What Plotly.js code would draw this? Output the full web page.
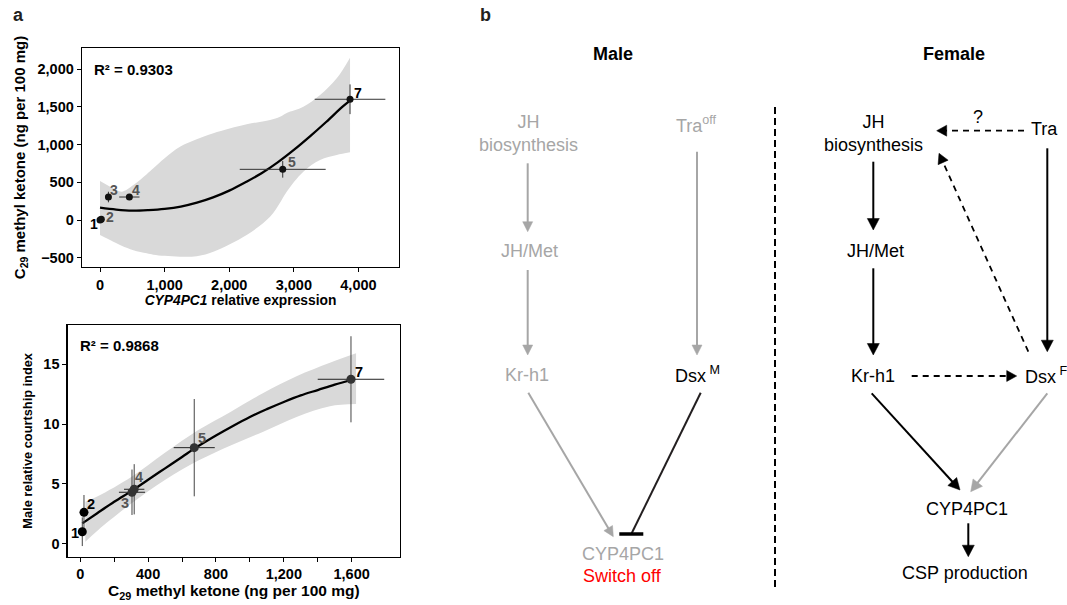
<!DOCTYPE html>
<html><head><meta charset="utf-8">
<script src="https://cdn.plot.ly/plotly-3.0.1.min.js"></script>
<style>html,body{margin:0;padding:0;background:#fff}#chart{width:1067px;height:605px}</style>
</head><body><div id="chart"></div>
<script>
// ---------- Panel a, top: CYP4PC1 expression vs C29 methyl ketone ----------
const strainLabels = ['1', '2', '3', '4', '5', '7'];
const cypExpression = [0, 20, 130, 454, 2828, 3870];
const cypExpressionErr = [0, 0, 25, 157, 665, 547];
const ketoneTop = [0, 10, 305, 305, 672, 1601];
const ketoneTopErr = [0, 0, 70, 35, 110, 197];
const fitTopX = [0, 250, 500, 750, 1000, 1250, 1500, 1750, 2000, 2250, 2500, 2750, 3000, 3250, 3500, 3750, 3850];
const fitTopY = [163, 138, 125, 132, 148, 178, 230, 300, 390, 500, 620, 765, 930, 1110, 1300, 1500, 1570];
const bandTopX = [0, 206, 335, 516, 723, 825, 1000, 1238, 1496, 1754, 2270, 2632, 2786, 2890, 3147, 3406, 3664, 3870];
const bandTopUpper = [517, 420, 376, 464, 607, 685, 820, 972, 1070, 1150, 1269, 1326, 1370, 1420, 1503, 1658, 1879, 2153];
const bandTopLower = [-199, -288, -340, -400, -442, -460, -475, -487, -480, -420, -199, 44, 230, 376, 641, 796, 862, 898];
const r2Top = 'R² = 0.9303';
const topXTicks = [0, 1000, 2000, 3000, 4000];
const topXTickText = ['0', '1,000', '2,000', '3,000', '4,000'];
const topYTicks = [-500, 0, 500, 1000, 1500, 2000];
const topYTickText = ['\u2212500', '0', '500', '1,000', '1,500', '2,000'];

// ---------- Panel a, bottom: C29 methyl ketone vs male courtship ----------
const ketone = [12, 22, 305, 318, 672, 1596];
const ketoneErr = [0, 0, 77, 60, 121, 196];
const courtship = [1.0, 2.62, 4.3, 4.55, 8.03, 13.75];
const courtshipErr = [1.2, 1.45, 1.9, 2.1, 4.07, 3.6];
const fitBotX = [12, 100, 200, 312, 400, 500, 600, 672, 800, 900, 1000, 1100, 1200, 1300, 1400, 1500, 1596];
const fitBotY = [1.7, 2.55, 3.5, 4.5, 5.35, 6.3, 7.25, 7.95, 9.05, 9.85, 10.6, 11.25, 11.85, 12.4, 12.85, 13.3, 13.69];
const bandBotX = [30, 106, 303, 499, 696, 883, 1079, 1275, 1472, 1626];
const bandBotUpper = [3.51, 3.99, 5.6, 7.6, 9.5, 11.0, 12.6, 14.0, 15.13, 15.92];
const bandBotLower = [0.17, 1.15, 3.38, 5.33, 6.95, 8.2, 9.37, 10.6, 11.5, 11.68];
const r2Bot = 'R² = 0.9868';
const botXTicks = [0, 400, 800, 1200, 1600];
const botXTickText = ['0', '400', '800', '1,200', '1,600'];
const botXMinorTicks = [200, 600, 1000, 1400];
const botYTicks = [0, 5, 10, 15];
const botYTickText = ['0', '5', '10', '15'];

// ---------- styling ----------
const FONT = 'Liberation Sans, Arial, Helvetica, sans-serif';
const W = 1067, H = 605;
const px = x => x / W;
const py = y => 1 - y / H;
const GRAY = '#a6a6a6';

const topLabelColors = ['#000', '#555', '#555', '#555', '#555', '#000'];
const topLabelShift = [[-6.5, -4], [8.3, 2.6], [5.7, 6.6], [6.7, 7.3], [9.6, 7], [7.7, 6]];
const botLabelColors = ['#000', '#000', '#555', '#555', '#555', '#000'];
const botLabelShift = [[-7.3, -1.6], [7, 8], [-7.3, -10.4], [4.7, 12.3], [7.3, 10], [8.3, 7.6]];

const traces = [
  {x: bandTopX, y: bandTopLower, mode: 'lines', line: {width: 0, color: 'rgba(0,0,0,0)', shape: 'spline'}, hoverinfo: 'skip', showlegend: false, xaxis: 'x', yaxis: 'y'},
  {x: bandTopX, y: bandTopUpper, mode: 'lines', line: {width: 0, color: 'rgba(0,0,0,0)', shape: 'spline'}, fill: 'tonexty', fillcolor: '#d9d9d9', hoverinfo: 'skip', showlegend: false, xaxis: 'x', yaxis: 'y'},
  {x: fitTopX, y: fitTopY, mode: 'lines', line: {color: '#000', width: 2.3, shape: 'spline'}, showlegend: false, xaxis: 'x', yaxis: 'y'},
  {x: cypExpression, y: ketoneTop, mode: 'markers', marker: {size: 7, color: '#111'},
   error_x: {type: 'data', array: cypExpressionErr, width: 0, thickness: 1, color: '#333'},
   error_y: {type: 'data', array: ketoneTopErr, width: 0, thickness: 1, color: '#333'},
   showlegend: false, xaxis: 'x', yaxis: 'y'},

  {x: bandBotX, y: bandBotLower, mode: 'lines', line: {width: 0, color: 'rgba(0,0,0,0)', shape: 'spline'}, hoverinfo: 'skip', showlegend: false, xaxis: 'x2', yaxis: 'y2'},
  {x: bandBotX, y: bandBotUpper, mode: 'lines', line: {width: 0, color: 'rgba(0,0,0,0)', shape: 'spline'}, fill: 'tonexty', fillcolor: '#d9d9d9', hoverinfo: 'skip', showlegend: false, xaxis: 'x2', yaxis: 'y2'},
  {x: fitBotX, y: fitBotY, mode: 'lines', line: {color: '#000', width: 2.3, shape: 'spline'}, showlegend: false, xaxis: 'x2', yaxis: 'y2'},
  {x: ketone, y: courtship, mode: 'markers', marker: {size: 9, color: ['#000', '#000', '#333', '#333', '#333', '#333']},
   error_x: {type: 'data', array: ketoneErr, width: 0, thickness: 1, color: '#222'},
   error_y: {type: 'data', array: courtshipErr, width: 0, thickness: 1, color: '#444'},
   showlegend: false, xaxis: 'x2', yaxis: 'y2'}
];

const tickFont = {family: FONT, size: 14.5, color: '#000', weight: 'bold'};
const tf = s => ({family: FONT, size: s, color: '#000', weight: 'bold'});
const axBase = {showline: true, linecolor: '#000', linewidth: 1.3, mirror: true, ticks: 'outside', ticklen: 4, tickwidth: 1, tickcolor: '#000',
  showgrid: false, zeroline: false, tickmode: 'array', tickfont: tickFont, fixedrange: true};

const annotations = [];
strainLabels.forEach((s, i) => {
  annotations.push({xref: 'x', yref: 'y', x: cypExpression[i], y: ketoneTop[i], xanchor: 'center', yanchor: 'middle', text: '<b>' + s + '</b>', showarrow: false,
    xshift: topLabelShift[i][0], yshift: topLabelShift[i][1], font: {family: FONT, size: 14, color: topLabelColors[i]}});
  annotations.push({xref: 'x2', yref: 'y2', x: ketone[i], y: courtship[i], xanchor: 'center', yanchor: 'middle', text: '<b>' + s + '</b>', showarrow: false,
    xshift: botLabelShift[i][0], yshift: botLabelShift[i][1], font: {family: FONT, size: 14.5, color: botLabelColors[i]}});
});
annotations.push({xref: 'paper', yref: 'paper', x: px(92), y: py(69), xanchor: 'left', yanchor: 'middle', text: '<b>' + r2Top + '</b>', showarrow: false, font: {family: FONT, size: 15, color: '#000'}});
annotations.push({xref: 'paper', yref: 'paper', x: px(78), y: py(345.5), xanchor: 'left', yanchor: 'middle', text: '<b>' + r2Bot + '</b>', showarrow: false, font: {family: FONT, size: 15, color: '#000'}});
annotations.push({xref: 'paper', yref: 'paper', x: px(18.5), y: py(15), xanchor: 'center', yanchor: 'middle', text: '<b>a</b>', showarrow: false, font: {family: FONT, size: 18, color: '#231f20'}});
annotations.push({xref: 'paper', yref: 'paper', x: px(485), y: py(15), xanchor: 'center', yanchor: 'middle', text: '<b>b</b>', showarrow: false, font: {family: FONT, size: 18, color: '#231f20'}});

// ---------- Panel b: regulatory diagram ----------
const nodes = [
  ['<b>Male</b>', 613, 54, '#000'],
  ['<b>Female</b>', 954, 54, '#000'],
  ['JH<br>biosynthesis', 528, 133, GRAY],
  ['Tra<sup>off</sup>', 696, 125, GRAY],
  ['JH/Met', 529, 250.7, GRAY],
  ['Kr-h1', 527.3, 375.3, GRAY],
  ['Dsx<sup> M</sup>', 697.5, 374, '#000'],
  ['CYP4PC1', 623.3, 554, GRAY],
  ['Switch off', 622.3, 576, '#ff0000'],
  ['JH<br>biosynthesis', 873, 133, '#000'],
  ['?', 978.3, 116.7, '#000'],
  ['Tra', 1044, 129.5, '#000'],
  ['JH/Met', 875, 250.7, '#000'],
  ['Kr-h1', 872.7, 376, '#000'],
  ['Dsx<sup> F</sup>', 1046, 375, '#000'],
  ['CYP4PC1', 967.3, 509.3, '#000'],
  ['CSP production', 965, 573.3, '#000']
];
nodes.forEach(n => annotations.push({xref: 'paper', yref: 'paper', x: px(n[1]), y: py(n[2]), xanchor: 'center', yanchor: 'middle',
  text: n[0], showarrow: false, font: {family: FONT, size: 18, color: n[3]}}));

const shapes = [];
function seg(x1, y1, x2, y2, color, width, dash) {
  shapes.push({type: 'line', xref: 'paper', yref: 'paper', x0: px(x1), y0: py(y1), x1: px(x2), y1: py(y2),
    line: {color: color, width: width, dash: dash || 'solid'}});
}
function head(x2, y2, ux, uy, color, L, w) {
  const bx = x2 - ux * L, by = y2 - uy * L;
  const nx = -uy, ny = ux;
  const p = (x, y) => px(x).toFixed(5) + ',' + py(y).toFixed(5);
  shapes.push({type: 'path', xref: 'paper', yref: 'paper',
    path: 'M' + p(x2, y2) + ' L' + p(bx + nx * w, by + ny * w) + ' L' + p(bx - nx * w, by - ny * w) + ' Z',
    fillcolor: color, line: {color: color, width: 0.5}});
}
function arrow(x1, y1, x2, y2, color, L, w, dash) {
  const dx = x2 - x1, dy = y2 - y1, len = Math.hypot(dx, dy);
  const ux = dx / len, uy = dy / len;
  seg(x1, y1, x2 - ux * (L - 2), y2 - uy * (L - 2), color, dash ? 1.8 : 2, dash);
  head(x2, y2, ux, uy, color, L, w);
}
// male arrows
arrow(527.7, 163.3, 527.7, 231.7, GRAY, 10, 5);
arrow(527.7, 270, 527.7, 355, GRAY, 10, 5);
arrow(697, 151.7, 697, 355, GRAY, 10, 5);
arrow(528.3, 392.7, 613.3, 536.7, GRAY, 10, 5);
// male inhibition
seg(700.7, 392.7, 631.7, 533.3, '#231f20', 2);
seg(619.3, 534, 643.3, 534, '#000', 3.5);
// divider
seg(775, 107, 775, 590, '#000', 2, '7px,4px');
// female arrows
arrow(873.3, 161.7, 873.3, 230, '#000', 11.5, 6);
arrow(873.3, 268.3, 873.3, 355, '#000', 11.5, 6);
arrow(1047.3, 148.3, 1047.3, 351.7, '#000', 11.5, 6);
arrow(871.7, 393.3, 960, 490, '#000', 11.5, 6);
arrow(1047.3, 393.3, 970.7, 491.7, GRAY, 11.5, 6);
arrow(968.3, 523.3, 968.3, 556.7, '#000', 11.5, 6);
arrow(1024, 130.7, 936.7, 130.7, '#000', 10, 5.5, '6px,5px');
arrow(1028.3, 351.7, 939, 153.3, '#000', 10, 5.5, '6px,5px');
arrow(911.7, 376, 1016.7, 376, '#000', 10, 5.5, '6px,5px');

const layout = {
  width: W, height: H, margin: {l: 0, r: 0, t: 0, b: 0}, paper_bgcolor: '#fff', plot_bgcolor: 'rgba(0,0,0,0)',
  showlegend: false, font: {family: FONT, color: '#000'},
  xaxis: Object.assign({}, axBase, {domain: [px(82), px(399)], range: [-279, 4628], tickvals: topXTicks, ticktext: topXTickText, anchor: 'y',
    title: {text: '<i>CYP4PC1</i> relative expression', font: tf(13.8), standoff: 2}}),
  yaxis: Object.assign({}, axBase, {domain: [py(267), py(48)], range: [-623, 2281], tickvals: topYTicks, ticktext: topYTickText, anchor: 'x',
    title: {text: 'C<sub>29</sub> methyl ketone (ng per 100 mg)', font: tf(15), standoff: 8}}),
  xaxis2: Object.assign({}, axBase, {domain: [px(67.7), px(400)], range: [-74, 1885], tickvals: botXTicks, ticktext: botXTickText, anchor: 'y2',
    minor: {tickmode: 'array', tickvals: botXMinorTicks, ticks: 'outside', ticklen: 4, tickwidth: 1, tickcolor: '#000', showgrid: false},
    title: {text: 'C<sub>29</sub> methyl ketone (ng per 100 mg)', font: tf(15.5), standoff: 2}}),
  yaxis2: Object.assign({}, axBase, {domain: [py(556.7), py(325)], range: [-1.09, 18.29], tickvals: botYTicks, ticktext: botYTickText, anchor: 'x2',
    title: {text: 'Male relative courtship index', font: tf(12.8), standoff: 8}}),
  annotations: annotations,
  shapes: shapes
};

Plotly.newPlot('chart', traces, layout, {displayModeBar: false, staticPlot: true});
</script>
</body></html>
